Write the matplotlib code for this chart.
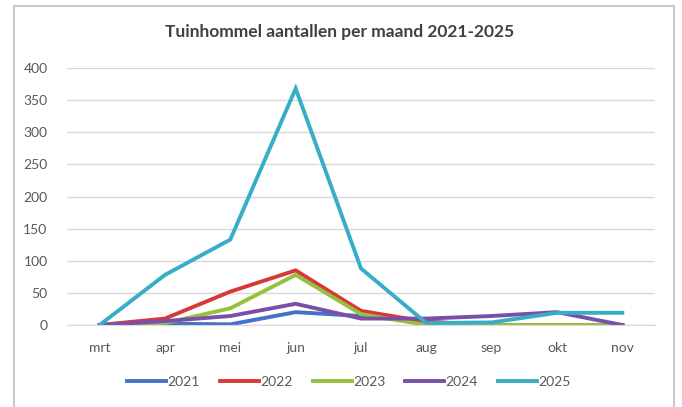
import matplotlib
matplotlib.use('Agg')
import matplotlib.pyplot as plt
from matplotlib.patches import Rectangle

months = ['mrt', 'apr', 'mei', 'jun', 'jul', 'aug', 'sep', 'okt', 'nov']
years = ['2021', '2022', '2023', '2024', '2025']

v2021 = [0, 2, 1, 20, 14, 5, 0, 0, 0]
v2022 = [0, 10, 52, 85, 22, 5, 0, 0, 0]
v2023 = [0, 3, 26, 78, 17, 0, 0, 0, 0]
v2024 = [0, 6, 14, 33, 10, 10, 14, 20, 0]
v2025 = [0, 78, 133, 368, 88, 3, 4, 19, 19]

series = [v2021, v2022, v2023, v2024, v2025]
colors = ['#4472c4', '#d9383a', '#94c23c', '#7a4fa8', '#37aec8']

plt.rcParams['font.family'] = ['Lato', 'DejaVu Sans']

fig = plt.figure(figsize=(6.82, 4.07), dpi=100)
fig.patch.set_facecolor('white')

# chart border
fig.add_artist(Rectangle((14 / 682, -0.01), 660 / 682, 1 - 6 / 407 + 0.01,
                         transform=fig.transFigure, fill=False,
                         edgecolor='#bfbfbf', linewidth=1.2))

ax = fig.add_axes([67 / 682, 1 - 325 / 407, 588 / 682, 257 / 407])
x = list(range(len(months)))
for vals, col, lab in zip(series, colors, years):
    ax.plot(x, vals, color=col, linewidth=2.8, label=lab, solid_joinstyle='miter')

ax.set_xlim(-0.5, len(months) - 0.5)
ax.set_ylim(0, 400)
ax.set_yticks(range(0, 401, 50))
ax.set_xticks(x)
ax.set_xticklabels(months)
ax.grid(axis='y', color='#d9d9d9', linewidth=1)
ax.set_axisbelow(True)
for s in ['top', 'right', 'left']:
    ax.spines[s].set_visible(False)
ax.spines['bottom'].set_color('#d9d9d9')
ax.tick_params(axis='both', length=0, colors='#595959', labelsize=10)
ax.tick_params(axis='y', pad=14)
ax.tick_params(axis='x', pad=12)

fig.text(340 / 682, 1 - 32 / 407, 'Tuinhommel aantallen per maand 2021-2025',
         ha='center', va='center', fontsize=12.5, fontweight='bold', color='#404040')

fig.legend(loc='center', bbox_to_anchor=(349 / 682, 1 - 382 / 407), ncol=5,
           frameon=False, fontsize=10, handlelength=2.8, handletextpad=0.1,
           columnspacing=1.45, labelcolor='#595959')

plt.savefig('out.png', dpi=100, facecolor='white')
